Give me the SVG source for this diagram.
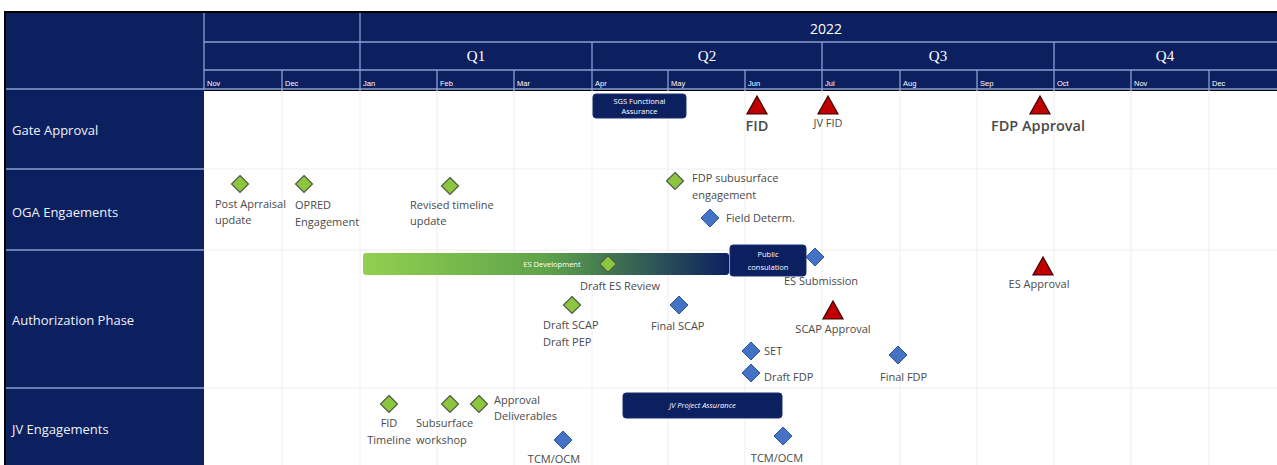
<svg xmlns="http://www.w3.org/2000/svg" width="1277" height="465" viewBox="0 0 1277 465">
  <defs>
    <style>
      .hdr { fill: #0c2060; }
      .hline { stroke: #8a9fcf; stroke-width: 1.3; }
      .grid { stroke: #eeeeee; stroke-width: 1; }
      .rowlab { font-family: "Open Sans", "Liberation Sans", sans-serif; font-size: 13px; fill: #eef1f8; }
      .month { font-family: "Liberation Sans", sans-serif; font-size: 7.5px; fill: #ffffff; }
      .qtr { font-family: "Liberation Serif", serif; font-size: 15px; fill: #ffffff; text-anchor: middle; }
      .year { font-family: "Open Sans", "Liberation Sans", sans-serif; font-size: 14px; fill: #ffffff; text-anchor: middle; }
      .lab { font-family: "Open Sans", "Liberation Sans", sans-serif; font-size: 11px; fill: #4a4a4a; }
      .big { font-family: "Open Sans", "Liberation Sans", sans-serif; font-size: 14.5px; font-weight: 600; fill: #4a4a4a; }
      .box { fill: #0c2060; stroke: #1a2f70; stroke-width: 1; }
      .boxt { font-family: "Open Sans", "Liberation Sans", sans-serif; font-size: 7.5px; fill: #ffffff; text-anchor: middle; }
      .gd { fill: #8cc63f; stroke: #4e5a44; stroke-width: 1.2; }
      .bd { fill: #4472c4; stroke: #2f5597; stroke-width: 1; }
      .rt { fill: #c00000; stroke: #3a0000; stroke-width: 1.2; }
    </style>
    <linearGradient id="esGrad" x1="0" y1="0" x2="1" y2="0">
      <stop offset="0" stop-color="#92d050"/>
      <stop offset="0.5" stop-color="#5fa34a"/>
      <stop offset="1" stop-color="#0c2060"/>
    </linearGradient>
    <path id="gdia" d="M0,-8.5 L8.5,0 L0,8.5 L-8.5,0 Z"/>
    <path id="bdia" d="M0,-9 L9,0 L0,9 L-9,0 Z"/>
    <path id="tri" d="M0,-9 L10,9 L-10,9 Z"/>
  </defs>

  <rect x="0" y="0" width="1277" height="465" fill="#ffffff"/>

  <!-- frame and header band -->
  <rect x="4" y="11" width="1273" height="80" fill="#000000"/>
  <rect x="6" y="13" width="1271" height="77" class="hdr"/>
  <!-- left label column -->
  <rect x="4" y="90" width="2" height="375" fill="#000000"/>
  <rect x="6" y="90" width="198" height="375" class="hdr"/>

  <g id="header">
    <line x1="204" y1="13" x2="204" y2="90" class="hline"/>
    <line x1="360" y1="13" x2="360" y2="90" class="hline"/>
    <line x1="204" y1="42" x2="1277" y2="42" class="hline"/>
    <line x1="204" y1="70" x2="1277" y2="70" class="hline"/>
    <line x1="592" y1="42" x2="592" y2="90" class="hline"/>
    <line x1="822" y1="42" x2="822" y2="90" class="hline"/>
    <line x1="1054" y1="42" x2="1054" y2="90" class="hline"/>
    <line x1="282" y1="70" x2="282" y2="90" class="hline"/>
    <line x1="437" y1="70" x2="437" y2="90" class="hline"/>
    <line x1="514" y1="70" x2="514" y2="90" class="hline"/>
    <line x1="668" y1="70" x2="668" y2="90" class="hline"/>
    <line x1="745" y1="70" x2="745" y2="90" class="hline"/>
    <line x1="900" y1="70" x2="900" y2="90" class="hline"/>
    <line x1="977" y1="70" x2="977" y2="90" class="hline"/>
    <line x1="1131" y1="70" x2="1131" y2="90" class="hline"/>
    <line x1="1209" y1="70" x2="1209" y2="90" class="hline"/>
    <line x1="6" y1="89" x2="1277" y2="89" class="hline"/>
    <text x="826" y="34" class="year">2022</text>
    <text x="476" y="61" class="qtr">Q1</text>
    <text x="707" y="61" class="qtr">Q2</text>
    <text x="938" y="61" class="qtr">Q3</text>
    <text x="1165" y="61" class="qtr">Q4</text>
    <text x="207" y="86" class="month">Nov</text>
    <text x="285" y="86" class="month">Dec</text>
    <text x="363" y="86" class="month">Jan</text>
    <text x="440" y="86" class="month">Feb</text>
    <text x="517" y="86" class="month">Mar</text>
    <text x="595" y="86" class="month">Apr</text>
    <text x="671" y="86" class="month">May</text>
    <text x="748" y="86" class="month">Jun</text>
    <text x="825" y="86" class="month">Jul</text>
    <text x="903" y="86" class="month">Aug</text>
    <text x="980" y="86" class="month">Sep</text>
    <text x="1057" y="86" class="month">Oct</text>
    <text x="1134" y="86" class="month">Nov</text>
    <text x="1212" y="86" class="month">Dec</text>
  </g>

  <!-- faint chart grid -->
  <g id="grid">
    <line x1="282" y1="90" x2="282" y2="465" class="grid"/>
    <line x1="360" y1="90" x2="360" y2="465" class="grid"/>
    <line x1="437" y1="90" x2="437" y2="465" class="grid"/>
    <line x1="514" y1="90" x2="514" y2="465" class="grid"/>
    <line x1="592" y1="90" x2="592" y2="465" class="grid"/>
    <line x1="668" y1="90" x2="668" y2="465" class="grid"/>
    <line x1="745" y1="90" x2="745" y2="465" class="grid"/>
    <line x1="822" y1="90" x2="822" y2="465" class="grid"/>
    <line x1="900" y1="90" x2="900" y2="465" class="grid"/>
    <line x1="977" y1="90" x2="977" y2="465" class="grid"/>
    <line x1="1054" y1="90" x2="1054" y2="465" class="grid"/>
    <line x1="1131" y1="90" x2="1131" y2="465" class="grid"/>
    <line x1="1209" y1="90" x2="1209" y2="465" class="grid"/>
    <line x1="204" y1="169" x2="1277" y2="169" class="grid"/>
    <line x1="204" y1="250" x2="1277" y2="250" class="grid"/>
    <line x1="204" y1="388" x2="1277" y2="388" class="grid"/>
  </g>

  <!-- row labels -->
  <g id="rows">
    <line x1="6" y1="169" x2="204" y2="169" class="hline"/>
    <line x1="6" y1="250" x2="204" y2="250" class="hline"/>
    <line x1="6" y1="388" x2="204" y2="388" class="hline"/>
    <text x="12" y="135" class="rowlab">Gate Approval</text>
    <text x="12" y="217" class="rowlab">OGA Engaements</text>
    <text x="12" y="325" class="rowlab">Authorization Phase</text>
    <text x="12" y="434" class="rowlab">JV Engagements</text>
  </g>

  <!-- Gate Approval -->
  <g id="sgs-assurance">
    <rect x="593" y="94" width="93" height="24" rx="3" class="box"/>
    <text x="639.5" y="104" class="boxt">SGS Functional</text>
    <text x="639.5" y="114" class="boxt">Assurance</text>
  </g>
  <g id="fid">
    <use href="#tri" x="757" y="105" class="rt"/>
    <text x="757" y="131" class="big" text-anchor="middle">FID</text>
  </g>
  <g id="jv-fid">
    <use href="#tri" x="828" y="105" class="rt"/>
    <text x="828" y="127" class="lab" text-anchor="middle">JV FID</text>
  </g>
  <g id="fdp-approval">
    <use href="#tri" x="1040" y="105" class="rt"/>
    <text x="1038" y="131" class="big" text-anchor="middle">FDP Approval</text>
  </g>

  <!-- OGA Engagements -->
  <g id="post-appraisal">
    <use href="#gdia" x="240" y="184" class="gd"/>
    <text x="215" y="208" class="lab">Post Aprraisal</text>
    <text x="215" y="224" class="lab">update</text>
  </g>
  <g id="opred">
    <use href="#gdia" x="304" y="184" class="gd"/>
    <text x="295" y="209" class="lab">OPRED</text>
    <text x="295" y="226" class="lab">Engagement</text>
  </g>
  <g id="revised-timeline">
    <use href="#gdia" x="450" y="186" class="gd"/>
    <text x="410" y="209" class="lab">Revised timeline</text>
    <text x="410" y="225" class="lab">update</text>
  </g>
  <g id="fdp-subsurface">
    <use href="#gdia" x="675" y="181" class="gd"/>
    <text x="692" y="182" class="lab">FDP subusurface</text>
    <text x="692" y="199" class="lab">engagement</text>
  </g>
  <g id="field-determ">
    <use href="#bdia" x="710" y="218" class="bd"/>
    <text x="726" y="222" class="lab">Field Determ.</text>
  </g>

  <!-- Authorization Phase -->
  <g id="es-development">
    <rect x="363" y="253" width="366" height="22" rx="3" fill="url(#esGrad)"/>
    <text x="552" y="267" class="boxt">ES Development</text>
    <use href="#gdia" x="608" y="264" class="gd"/>
  </g>
  <g id="public-consultation">
    <rect x="730" y="245" width="76" height="31" rx="3" class="box"/>
    <text x="768" y="257" class="boxt">Public</text>
    <text x="768" y="270" class="boxt">consulation</text>
  </g>
  <g id="es-submission">
    <use href="#bdia" x="815" y="257" class="bd"/>
    <text x="821" y="285" class="lab" text-anchor="middle">ES Submission</text>
  </g>
  <g id="draft-es-review">
    <text x="620" y="290" class="lab" text-anchor="middle">Draft ES Review</text>
  </g>
  <g id="draft-scap">
    <use href="#gdia" x="572" y="305" class="gd"/>
    <text x="543" y="329" class="lab">Draft SCAP</text>
    <text x="543" y="346" class="lab">Draft PEP</text>
  </g>
  <g id="final-scap">
    <use href="#bdia" x="679" y="305" class="bd"/>
    <text x="651" y="330" class="lab">Final SCAP</text>
  </g>
  <g id="scap-approval">
    <use href="#tri" x="833" y="310" class="rt"/>
    <text x="833" y="333" class="lab" text-anchor="middle">SCAP Approval</text>
  </g>
  <g id="set">
    <use href="#bdia" x="751" y="351" class="bd"/>
    <text x="764" y="355" class="lab">SET</text>
  </g>
  <g id="draft-fdp">
    <use href="#bdia" x="751" y="373" class="bd"/>
    <text x="764" y="381" class="lab">Draft FDP</text>
  </g>
  <g id="final-fdp">
    <use href="#bdia" x="898" y="355" class="bd"/>
    <text x="880" y="381" class="lab">Final FDP</text>
  </g>
  <g id="es-approval">
    <use href="#tri" x="1043" y="266" class="rt"/>
    <text x="1039" y="288" class="lab" text-anchor="middle">ES Approval</text>
  </g>

  <!-- JV Engagements -->
  <g id="fid-timeline">
    <use href="#gdia" x="389" y="404" class="gd"/>
    <text x="389" y="427" class="lab" text-anchor="middle">FID</text>
    <text x="389" y="444" class="lab" text-anchor="middle">Timeline</text>
  </g>
  <g id="subsurface-workshop">
    <use href="#gdia" x="450" y="404" class="gd"/>
    <text x="416" y="427" class="lab">Subsurface</text>
    <text x="416" y="444" class="lab">workshop</text>
  </g>
  <g id="approval-deliverables">
    <use href="#gdia" x="479" y="404" class="gd"/>
    <text x="494" y="404" class="lab">Approval</text>
    <text x="494" y="420" class="lab">Deliverables</text>
  </g>
  <g id="jv-project-assurance">
    <rect x="623" y="393" width="159" height="25" rx="3" class="box"/>
    <text x="702.5" y="408" class="boxt" font-style="italic">JV Project Assurance</text>
  </g>
  <g id="tcm-ocm-1">
    <use href="#bdia" x="563" y="440" class="bd"/>
    <text x="554" y="463" class="lab" text-anchor="middle">TCM/OCM</text>
  </g>
  <g id="tcm-ocm-2">
    <use href="#bdia" x="783" y="436" class="bd"/>
    <text x="777" y="462" class="lab" text-anchor="middle">TCM/OCM</text>
  </g>
</svg>
